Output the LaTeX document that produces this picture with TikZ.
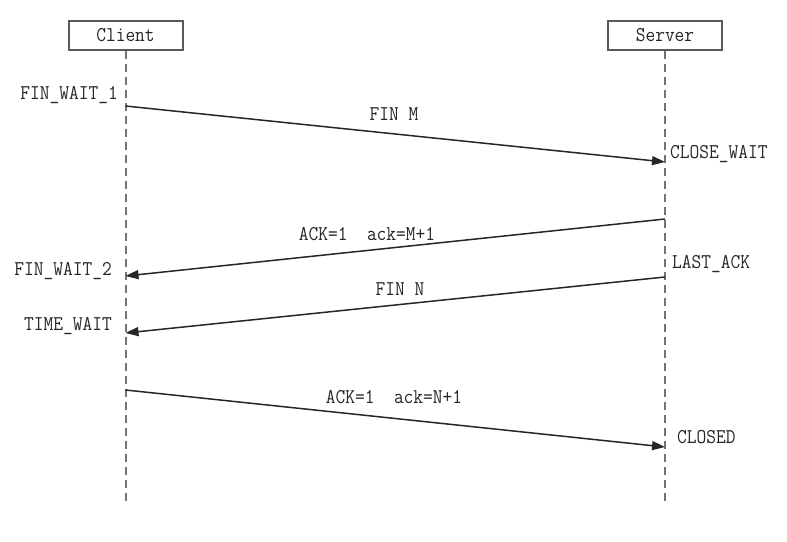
\documentclass[tikz,border=0pt]{standalone}
\usepackage{fontspec}
\setmonofont{Latin Modern Mono}[FakeStretch=0.9]
\usetikzlibrary{arrows.meta}
\begin{document}
\begin{tikzpicture}[x=1pt,y=-1pt,
  lbl/.style={font=\ttfamily\fontsize{21}{23}\selectfont, inner sep=0pt, text=black!85},
  actor/.style={draw=black!65, line width=2pt, minimum width=114pt, minimum height=29pt, inner sep=0pt, font=\ttfamily\fontsize{21}{23}\selectfont, text=black!85},
  life/.style={draw=black!55, line width=2pt, dash pattern=on 8pt off 5pt},
  msg/.style={draw=black!85, line width=1.5pt, -{Triangle[length=13pt,width=9pt]}}]
\path[use as bounding box] (0,0) rectangle (787,541);
\node[actor] (client) at (125.5,35) {Client};
\node[actor] (server) at (665,35) {Server};
\coordinate (cend) at (125.5,502);
\coordinate (send) at (665,502);
\draw[life] (client.south) -- (cend);
\draw[life] (server.south) -- (send);
% message end points
\coordinate (c1) at (125.5,106);
\coordinate (s1) at (665,162);
\coordinate (s2) at (665,219);
\coordinate (c2) at (125.5,276);
\coordinate (s3) at (665,277);
\coordinate (c3) at (125.5,333);
\coordinate (c4) at (125.5,390);
\coordinate (s4) at (665,447);
\draw[msg] (c1) -- (s1);
\draw[msg] (s2) -- (c2);
\draw[msg] (s3) -- (c3);
\draw[msg] (c4) -- (s4);
% message labels
\node[lbl] (m1) at (394,114) {FIN M};
\node[lbl] (m2) at (367,234) {ACK=1~~ack=M+1};
\node[lbl] (m3) at (400,289) {FIN N};
\node[lbl] (m4) at (394,397) {ACK=1~~ack=N+1};
% states
\node[lbl, anchor=east] (st1) at (118,95) {FIN\_WAIT\_1};
\node[lbl, anchor=west] (st2) at (670,154) {CLOSE\_WAIT};
\node[lbl, anchor=east] (st3) at (112,271) {FIN\_WAIT\_2};
\node[lbl, anchor=west] (st4) at (672,264) {LAST\_ACK};
\node[lbl, anchor=east] (st5) at (112,326) {TIME\_WAIT};
\node[lbl, anchor=west] (st6) at (677,437) {CLOSED};
\end{tikzpicture}
\end{document}
